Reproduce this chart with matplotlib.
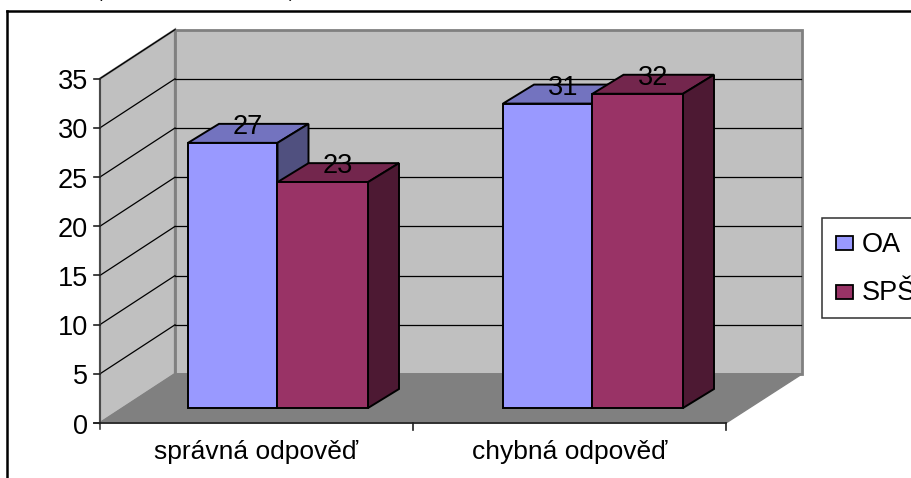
import matplotlib
matplotlib.use("Agg")
import matplotlib.pyplot as plt
from matplotlib.patches import Polygon, Rectangle

kategorie = ["správná odpověď", "chybná odpověď"]
serie = ["OA", "SPŠ"]
oa = [27, 31]
sps = [23, 32]
ticks = [0, 5, 10, 15, 20, 25, 30, 35]

plt.rcParams['font.family'] = ['Liberation Sans', 'DejaVu Sans']

# barvy: predni, horni a bocni stena
barvy = {
    "OA": ("#9999ff", "#7373bf", "#50507f"),
    "SPŠ": ("#993366", "#73264d", "#4d1933"),
}

MERITKO = 9.84
BAR_MERITKO = 9.82
DX, DY = 75, 49        # hloubka celeho grafu
BAR_DX, BAR_DY = 31, 19
X0, Y0 = 100, 423
SIRKA = 626
BAR_Y0 = 408
BAR_X = [188, 503]
BAR_W = 89.5


def y_predni(v):
    return Y0 - v * MERITKO


def y_zadni(v):
    return Y0 - DY - v * MERITKO


def kvadr(ax, x, w, hodnota, nazev):
    predni, horni, bocni = barvy[nazev]
    top = BAR_Y0 - hodnota * BAR_MERITKO
    ax.add_patch(Polygon([(x, top), (x + BAR_DX, top - BAR_DY), (x + w + BAR_DX, top - BAR_DY), (x + w, top)],
                         fc=horni, ec='black', lw=1.4, zorder=3))
    ax.add_patch(Polygon([(x + w, top), (x + w + BAR_DX, top - BAR_DY), (x + w + BAR_DX, BAR_Y0 - BAR_DY), (x + w, BAR_Y0)],
                         fc=bocni, ec='black', lw=1.4, zorder=3))
    ax.add_patch(Rectangle((x, top), w, BAR_Y0 - top, fc=predni, ec='black', lw=1.4, zorder=3))
    ax.text(x + w / 2 + BAR_DX / 2, top - 16, str(hodnota), ha='center', va='center',
            fontsize=19.5, color='black', zorder=5)


fig = plt.figure(figsize=(9.12, 4.78), dpi=100)
ax = fig.add_axes([0, 0, 1, 1])
ax.set_xlim(0, 912)
ax.set_ylim(478, 0)
ax.axis('off')

# zbytek textu nad grafem, oriznuty hornim okrajem
for x, znak in zip([100, 192, 292], ["(", ",", ")"]):
    ax.text(x, -2.5, znak, ha='center', va='baseline', fontsize=12, color='black', clip_on=True)

# vnejsi ramecek
ax.plot([7, 7], [478, 11], color='black', lw=1.8)
ax.plot([7, 912], [11, 11], color='black', lw=1.8)

# zadni a bocni stena, podlaha
sedy = '#c0c0c0'
hrana = '#808080'
ax.add_patch(Polygon([(X0 + DX, y_zadni(0)), (X0 + DX + SIRKA + 1, y_zadni(0)), (X0 + DX + SIRKA + 1, y_zadni(35)), (X0 + DX, y_zadni(35))],
                     fc=sedy, ec=hrana, lw=2))
ax.add_patch(Polygon([(X0, y_predni(0)), (X0 + DX, y_zadni(0)), (X0 + DX, y_zadni(35)), (X0, y_predni(35))],
                     fc=sedy, ec=hrana, lw=1.6))
ax.add_patch(Polygon([(X0, y_predni(0)), (X0 + SIRKA, y_predni(0)), (X0 + SIRKA + DX + 1, y_zadni(0)), (X0 + DX, y_zadni(0))],
                     fc=hrana, ec=hrana, lw=1))

# mrizka
for t in ticks[1:]:
    ax.plot([X0, X0 + DX], [y_predni(t), y_zadni(t)], color='black', lw=0.9, zorder=2)
    if t < 35:
        ax.plot([X0 + DX, X0 + DX + SIRKA], [y_zadni(t), y_zadni(t)], color='black', lw=0.9, zorder=2)

# osy
ax.plot([X0, X0], [y_predni(35), Y0 + 6], color='#404040', lw=1.2, zorder=2)
ax.plot([X0 - 6, X0 + SIRKA], [Y0, Y0], color='#202020', lw=1.2, zorder=2)
for t in ticks:
    ax.plot([X0 - 6, X0], [y_predni(t), y_predni(t)], color='#202020', lw=1.2, zorder=2)
    ax.text(X0 - 12, y_predni(t) + 3.5, str(t), ha='right', va='center', fontsize=19.5, color='black')
for i in range(1, len(kategorie) + 1):
    x = X0 + i * SIRKA / len(kategorie)
    ax.plot([x, x], [Y0, Y0 + 7], color='#202020', lw=1.2, zorder=2)
for i, k in enumerate(kategorie):
    ax.text(X0 + (i + 0.5) * SIRKA / len(kategorie), 452, k, ha='center', va='center', fontsize=19, color='black')

# sloupce
for i in range(len(kategorie)):
    kvadr(ax, BAR_X[i], BAR_W, oa[i], "OA")
    kvadr(ax, BAR_X[i] + BAR_W, BAR_W + 1, sps[i], "SPŠ")

# legenda
ax.add_patch(Rectangle((822, 218), 100, 100, fc='white', ec='#303030', lw=1.1, clip_on=True))
for i, nazev in enumerate(serie):
    yy = 243 + i * 48.5
    ax.add_patch(Rectangle((836, yy - 7), 17, 14, fc=barvy[nazev][0], ec='black', lw=1.3))
    ax.text(862, yy + 2, nazev, ha='left', va='center', fontsize=19.5, color='black', clip_on=True)

fig.savefig("out.png", dpi=100)
